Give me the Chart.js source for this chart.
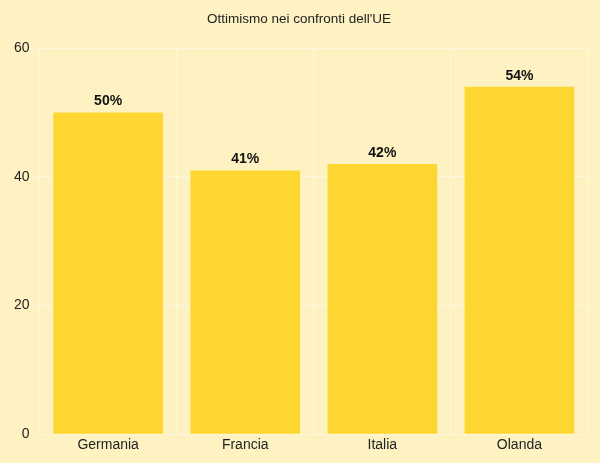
<!DOCTYPE html>
<html>
<head>
<meta charset="utf-8">
<script src="https://cdn.jsdelivr.net/npm/chart.js@4"></script>
<style>
  html, body { margin: 0; padding: 0; background: #fef2c2; }
  #wrap { width: 600px; height: 463px; }
</style>
</head>
<body>
<div id="wrap"><canvas id="chart"></canvas></div>
<script>
const COUNTRIES = ["Germania", "Francia", "Italia", "Olanda"];
const OPTIMISM = [50, 41, 42, 54];
const Y_TICKS = [0, 20, 40, 60];

const BG = "#fef2c2";
const BAR = "#fed631";
const FONT = "'Liberation Sans', Arial, sans-serif";

// draws the "50%" labels above each bar
const valueLabels = {
  id: "valueLabels",
  afterDatasetsDraw(chart) {
    const ctx = chart.ctx;
    const meta = chart.getDatasetMeta(0);
    ctx.save();
    ctx.font = "bold 14px " + FONT;
    ctx.fillStyle = "#111";
    ctx.textAlign = "center";
    ctx.textBaseline = "bottom";
    meta.data.forEach((bar, i) => {
      ctx.fillText(OPTIMISM[i] + "%", bar.x, bar.y - 4);
    });
    ctx.restore();
  },
};

const bgFill = {
  id: "bgFill",
  beforeDraw(chart) {
    const ctx = chart.ctx;
    ctx.save();
    ctx.fillStyle = BG;
    ctx.fillRect(0, 0, chart.width, chart.height);
    ctx.restore();
  },
};

new Chart(document.getElementById("chart"), {
  type: "bar",
  data: {
    labels: COUNTRIES,
    datasets: [{
      label: "Ottimismo",
      data: OPTIMISM,
      backgroundColor: BAR,
      borderWidth: 0,
      barPercentage: 0.8,
      categoryPercentage: 1,
    }],
  },
  options: {
    responsive: true,
    maintainAspectRatio: false,
    animation: false,
    layout: { padding: { left: 10, right: 12, top: 0, bottom: 6 } },
    plugins: {
      legend: { display: false },
      tooltip: { enabled: false },
      title: {
        display: true,
        text: "Ottimismo nei confronti dell'UE",
        color: "#222",
        font: { family: FONT, size: 13.5, weight: "normal" },
        padding: { top: 11, bottom: 21 },
      },
    },
    scales: {
      x: {
        grid: { color: "rgba(255,255,255,0.4)", drawTicks: false, offset: true },
        border: { display: false },
        ticks: { color: "#222", font: { family: FONT, size: 14 }, padding: 3 },
      },
      y: {
        min: 0,
        max: 60,
        afterBuildTicks(axis) {
          axis.ticks = Y_TICKS.map((v) => ({ value: v }));
        },
        grid: { color: "rgba(255,255,255,0.4)", tickLength: 6 },
        border: { display: false },
        ticks: { color: "#222", font: { family: FONT, size: 14 }, padding: 4 },
      },
    },
  },
  plugins: [bgFill, valueLabels],
});
</script>
</body>
</html>
